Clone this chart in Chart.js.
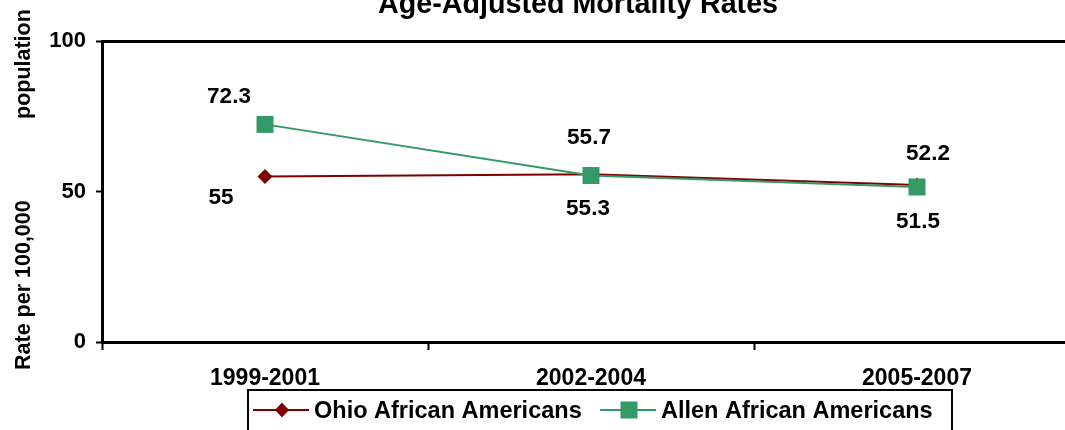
<!DOCTYPE html>
<html>
<head>
<meta charset="utf-8">
<script src="https://cdn.jsdelivr.net/npm/chart.js@4/dist/chart.umd.min.js"></script>
<style>
  html, body { margin: 0; padding: 0; background: #fff; overflow: hidden; }
  #wrap { position: absolute; left: 0; top: 0; width: 1100px; height: 430px; }
</style>
</head>
<body>
<div id="wrap"><canvas id="mortalityChart"></canvas></div>
<script>
// chart data
const periods = ['1999-2001', '2002-2004', '2005-2007'];
const ohioRates = [55, 55.7, 52.2];
const allenRates = [72.3, 55.3, 51.5];
const yTicks = [0, 50, 100];

const FONT = '"Liberation Sans", Arial, sans-serif';

// offsets (dx, dy) of the value labels from each point
const ohioLabelOffsets = [[-44, 21], [-2, -37], [11, -31]];
const allenLabelOffsets = [[-36, -28], [-3, 33], [1, 35]];

// draws title, y title, value labels and the boxed legend
const decorations = {
    id: 'decorations',
    afterDatasetsDraw(chart) {
        const ctx = chart.ctx;
        ctx.save();
        ctx.fillStyle = '#000';

        // title (mostly cut off at the top, like the original)
        ctx.font = 'bold 28.7px ' + FONT;
        ctx.textAlign = 'center';
        ctx.textBaseline = 'alphabetic';
        ctx.fillText('Age-Adjusted Mortality Rates', 578, 13);

        // y axis title, split in two like the original
        ctx.save();
        ctx.translate(30, 370);
        ctx.rotate(-Math.PI / 2);
        ctx.font = 'bold 21.5px ' + FONT;
        ctx.textAlign = 'left';
        ctx.textBaseline = 'alphabetic';
        ctx.fillText('Rate per 100,000', 0, 0);
        ctx.fillText('population', 251, 0);
        ctx.restore();

        // value labels
        ctx.font = 'bold 22.5px ' + FONT;
        ctx.textAlign = 'center';
        ctx.textBaseline = 'middle';
        chart.data.datasets.forEach((ds, i) => {
            const meta = chart.getDatasetMeta(i);
            meta.data.forEach((pt, j) => {
                const off = ds.labelOffsets[j];
                ctx.fillText(String(ds.data[j]), pt.x + off[0], pt.y + off[1]);
            });
        });

        // legend
        ctx.strokeStyle = '#000';
        ctx.lineWidth = 2;
        ctx.strokeRect(248, 390, 704, 50);
        const legendX = [253, 600];
        const legendY = 410;
        ctx.font = 'bold 23.5px ' + FONT;
        ctx.textAlign = 'left';
        chart.data.datasets.forEach((ds, i) => {
            const x = legendX[i];
            ctx.strokeStyle = ds.borderColor;
            ctx.lineWidth = 2;
            ctx.beginPath();
            ctx.moveTo(x, legendY);
            ctx.lineTo(x + 56, legendY);
            ctx.stroke();
            ctx.fillStyle = ds.pointBackgroundColor;
            const cx = x + 29;
            if (ds.pointStyle === 'rectRot') {
                ctx.beginPath();
                ctx.moveTo(cx, legendY - 7.5);
                ctx.lineTo(cx + 7, legendY);
                ctx.lineTo(cx, legendY + 7.5);
                ctx.lineTo(cx - 7, legendY);
                ctx.closePath();
                ctx.fill();
            } else {
                ctx.fillRect(cx - 8.5, legendY - 8.5, 17, 17);
            }
            ctx.fillStyle = '#000';
            ctx.fillText(ds.label, x + 61, legendY + 2);
        });
        ctx.restore();
    }
};

const ctx = document.getElementById('mortalityChart').getContext('2d');
new Chart(ctx, {
    type: 'line',
    data: {
        labels: periods,
        datasets: [
            {
                label: 'Ohio African Americans',
                data: ohioRates,
                order: 1,
                borderColor: '#800000',
                backgroundColor: '#800000',
                pointBackgroundColor: '#800000',
                pointBorderColor: '#800000',
                borderWidth: 2,
                pointStyle: 'rectRot',
                pointRadius: 7.5,
                pointBorderWidth: 0,
                labelOffsets: ohioLabelOffsets
            },
            {
                label: 'Allen African Americans',
                data: allenRates,
                order: 0,
                borderColor: '#339966',
                backgroundColor: '#339966',
                pointBackgroundColor: '#339966',
                pointBorderColor: '#339966',
                borderWidth: 2,
                pointStyle: 'rect',
                pointRadius: 12,
                pointBorderWidth: 0,
                labelOffsets: allenLabelOffsets
            }
        ]
    },
    options: {
        responsive: true,
        maintainAspectRatio: false,
        animation: false,
        layout: { padding: { left: 0, top: 41, right: 20, bottom: 0 } },
        plugins: {
            legend: { display: false },
            title: { display: false },
            tooltip: { enabled: false }
        },
        scales: {
            x: {
                offset: true,
                grid: {
                    offset: true,
                    drawOnChartArea: false,
                    drawTicks: true,
                    tickLength: 8,
                    tickColor: '#000',
                    tickWidth: 2
                },
                border: { color: '#000', width: 3 },
                ticks: {
                    color: '#000',
                    padding: 15,
                    maxRotation: 0,
                    font: { family: FONT, size: 23, weight: 'bold' }
                },
                afterFit(scale) { scale.height = 88; }
            },
            y: {
                min: 0,
                max: 100,
                afterBuildTicks(scale) {
                    scale.ticks = yTicks.map(v => ({ value: v }));
                },
                grid: {
                    color: c => (c.tick && c.tick.value === 100 ? '#000' : 'rgba(0,0,0,0)'),
                    lineWidth: 3,
                    drawTicks: true,
                    tickLength: 6,
                    tickColor: '#000',
                    tickWidth: 2
                },
                border: { color: '#000', width: 3 },
                ticks: {
                    color: '#000',
                    padding: 10,
                    font: { family: FONT, size: 22, weight: 'bold' }
                },
                afterFit(scale) { scale.width = 102; }
            }
        }
    },
    plugins: [decorations]
});
</script>
</body>
</html>
